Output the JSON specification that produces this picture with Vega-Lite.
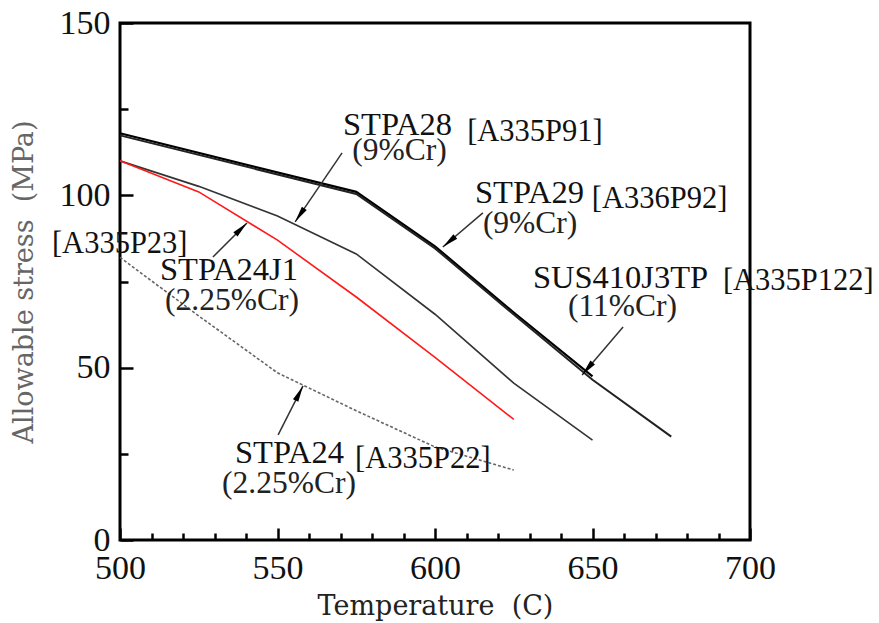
{
  "$schema": "https://vega.github.io/schema/vega-lite/v6.json",
  "width": 630,
  "height": 517,
  "autosize": {"type": "none"},
  "padding": {"left": 120, "top": 23, "right": 129, "bottom": 83},
  "background": "white",
  "config": {
    "view": {"stroke": "black", "strokeWidth": 3},
    "axis": {"grid": false, "domain": false}
  },
  "datasets": {
    "curves": [
      {"series": "STPA29", "temp": 500, "stress": 118},
      {"series": "STPA29", "temp": 575, "stress": 101},
      {"series": "STPA29", "temp": 600, "stress": 85.2},
      {"series": "STPA29", "temp": 625, "stress": 66},
      {"series": "STPA29", "temp": 650, "stress": 47.5},
      {"series": "SUS410J3TP", "temp": 500, "stress": 117.4},
      {"series": "SUS410J3TP", "temp": 575, "stress": 100.4},
      {"series": "SUS410J3TP", "temp": 600, "stress": 84.6},
      {"series": "SUS410J3TP", "temp": 625, "stress": 65.4},
      {"series": "SUS410J3TP", "temp": 650, "stress": 46.5},
      {"series": "SUS410J3TP", "temp": 675, "stress": 30},
      {"series": "STPA28", "temp": 500, "stress": 110},
      {"series": "STPA28", "temp": 525, "stress": 102.6},
      {"series": "STPA28", "temp": 550, "stress": 94},
      {"series": "STPA28", "temp": 575, "stress": 83},
      {"series": "STPA28", "temp": 600, "stress": 65.5},
      {"series": "STPA28", "temp": 625, "stress": 45.5},
      {"series": "STPA28", "temp": 650, "stress": 29},
      {"series": "STPA24J1", "temp": 500, "stress": 110},
      {"series": "STPA24J1", "temp": 525, "stress": 101},
      {"series": "STPA24J1", "temp": 550, "stress": 87},
      {"series": "STPA24J1", "temp": 575, "stress": 70.5},
      {"series": "STPA24J1", "temp": 600, "stress": 53},
      {"series": "STPA24J1", "temp": 625, "stress": 35},
      {"series": "STPA24", "temp": 500, "stress": 82},
      {"series": "STPA24", "temp": 525, "stress": 65},
      {"series": "STPA24", "temp": 550, "stress": 48.5},
      {"series": "STPA24", "temp": 575, "stress": 37.5},
      {"series": "STPA24", "temp": 600, "stress": 27},
      {"series": "STPA24", "temp": 625, "stress": 20.3}
    ],
    "labels": [
      {"label": "STPA28", "kind": "name", "temp": 570.8, "stress": 117.5},
      {"label": "[A335P91]", "kind": "code", "temp": 610.2, "stress": 115.8},
      {"label": "(9%Cr)", "kind": "cr", "temp": 573.7, "stress": 110.2},
      {"label": "STPA29", "kind": "name", "temp": 612.7, "stress": 97.8},
      {"label": "[A336P92]", "kind": "code", "temp": 649.8, "stress": 96.3},
      {"label": "(9%Cr)", "kind": "cr", "temp": 615.2, "stress": 89.1},
      {"label": "SUS410J3TP", "kind": "name", "temp": 631.1, "stress": 73.1},
      {"label": "[A335P122]", "kind": "code", "temp": 691.4, "stress": 72.5},
      {"label": "(11%Cr)", "kind": "cr", "temp": 642.2, "stress": 65.0},
      {"label": "[A335P23]", "kind": "code", "temp": 478.4, "stress": 83.3},
      {"label": "STPA24J1", "kind": "name", "temp": 512.7, "stress": 75.4},
      {"label": "(2.25%Cr)", "kind": "cr", "temp": 514.3, "stress": 66.7},
      {"label": "STPA24", "kind": "name", "temp": 536.5, "stress": 22.3},
      {"label": "[A335P22]", "kind": "code", "temp": 574.6, "stress": 20.9},
      {"label": "(2.25%Cr)", "kind": "cr", "temp": 532.4, "stress": 13.6}
    ],
    "arrows": [
      {"target": "STPA28", "t1": 570.5, "s1": 112.3, "t2": 555.6, "s2": 92.3},
      {"target": "STPA29", "t1": 615.2, "s1": 94.9, "t2": 602.5, "s2": 85.0},
      {"target": "SUS410J3TP", "t1": 659.7, "s1": 61.8, "t2": 646.7, "s2": 47.9},
      {"target": "STPA24J1", "t1": 529.5, "s1": 82.1, "t2": 540.3, "s2": 92.0},
      {"target": "STPA24", "t1": 550.2, "s1": 30.5, "t2": 558.1, "s2": 44.7}
    ]
  },
  "resolve": {"axis": {"x": "independent", "y": "independent"}},
  "layer": [
    {
      "data": {"name": "curves"},
      "transform": [{"filter": "datum.series === 'STPA29'"}],
      "mark": {"type": "line", "color": "black", "strokeWidth": 2.2},
      "encoding": {
        "x": {
          "field": "temp", "type": "quantitative",
          "scale": {"domain": [500, 700], "nice": false, "zero": false},
          "axis": {
            "orient": "bottom", "values": [500, 550, 600, 650, 700],
            "tickSize": -12, "tickWidth": 2.5, "tickColor": "black",
            "labelFont": "Liberation Serif", "labelFontSize": 34, "labelColor": "#111",
            "labelPadding": 23, "labelFlush": false, "labelOverlap": false,
            "title": "Temperature\u00a0\u00a0(C)", "titleFont": "DejaVu Serif", "titleFontSize": 27,
            "titleFontWeight": "normal", "titleColor": "#222", "titlePadding": 8
          }
        },
        "y": {
          "field": "stress", "type": "quantitative",
          "scale": {"domain": [0, 150], "nice": false, "zero": true},
          "axis": {
            "orient": "left", "values": [0, 50, 100, 150],
            "tickSize": -13, "tickWidth": 2.5, "tickColor": "black",
            "labelFont": "Liberation Serif", "labelFontSize": 34, "labelColor": "#111",
            "labelPadding": 23, "labelFlush": false, "labelOverlap": false,
            "title": "Allowable stress\u00a0 (MPa)", "titleFont": "DejaVu Serif", "titleFontSize": 27,
            "titleFontWeight": "normal", "titleColor": "#666", "titlePadding": 21
          }
        }
      }
    },
    {
      "data": {"name": "curves"},
      "mark": {"type": "point", "opacity": 0},
      "encoding": {
        "x": {
          "field": "temp", "type": "quantitative",
          "scale": {"domain": [500, 700], "nice": false, "zero": false},
          "axis": {
            "orient": "bottom",
            "values": [510, 520, 530, 540, 560, 570, 580, 590, 610, 620, 630, 640, 660, 670, 680, 690],
            "tickSize": -7, "tickWidth": 2.5, "tickColor": "black",
            "labels": false, "title": null
          }
        },
        "y": {
          "field": "stress", "type": "quantitative",
          "scale": {"domain": [0, 150], "nice": false, "zero": true},
          "axis": {
            "orient": "left", "values": [25, 75, 125],
            "tickSize": -8, "tickWidth": 2.5, "tickColor": "black",
            "labels": false, "title": null
          }
        }
      }
    },
    {
      "data": {"name": "curves"},
      "transform": [{"filter": "datum.series === 'SUS410J3TP'"}],
      "mark": {"type": "line", "color": "#222", "strokeWidth": 2},
      "encoding": {
        "x": {"field": "temp", "type": "quantitative", "scale": {"domain": [500, 700], "nice": false, "zero": false}, "axis": null},
        "y": {"field": "stress", "type": "quantitative", "scale": {"domain": [0, 150], "nice": false, "zero": true}, "axis": null}
      }
    },
    {
      "data": {"name": "curves"},
      "transform": [{"filter": "datum.series === 'STPA28'"}],
      "mark": {"type": "line", "color": "#333", "strokeWidth": 1.6},
      "encoding": {
        "x": {"field": "temp", "type": "quantitative", "scale": {"domain": [500, 700], "nice": false, "zero": false}, "axis": null},
        "y": {"field": "stress", "type": "quantitative", "scale": {"domain": [0, 150], "nice": false, "zero": true}, "axis": null}
      }
    },
    {
      "data": {"name": "curves"},
      "transform": [{"filter": "datum.series === 'STPA24J1'"}],
      "mark": {"type": "line", "color": "#ff1a1a", "strokeWidth": 1.6},
      "encoding": {
        "x": {"field": "temp", "type": "quantitative", "scale": {"domain": [500, 700], "nice": false, "zero": false}, "axis": null},
        "y": {"field": "stress", "type": "quantitative", "scale": {"domain": [0, 150], "nice": false, "zero": true}, "axis": null}
      }
    },
    {
      "data": {"name": "curves"},
      "transform": [{"filter": "datum.series === 'STPA24'"}],
      "mark": {"type": "line", "color": "#666", "strokeWidth": 1.6, "strokeDash": [3, 2]},
      "encoding": {
        "x": {"field": "temp", "type": "quantitative", "scale": {"domain": [500, 700], "nice": false, "zero": false}, "axis": null},
        "y": {"field": "stress", "type": "quantitative", "scale": {"domain": [0, 150], "nice": false, "zero": true}, "axis": null}
      }
    },
    {
      "data": {"name": "arrows"},
      "mark": {"type": "rule", "color": "#333", "strokeWidth": 1.5},
      "encoding": {
        "x": {"field": "t1", "type": "quantitative", "scale": {"domain": [500, 700], "nice": false, "zero": false}, "axis": null},
        "y": {"field": "s1", "type": "quantitative", "scale": {"domain": [0, 150], "nice": false, "zero": true}, "axis": null},
        "x2": {"field": "t2"},
        "y2": {"field": "s2"}
      }
    },
    {
      "data": {"name": "arrows"},
      "transform": [{"calculate": "atan2((datum.t2 - datum.t1) * 3.15, (datum.s2 - datum.s1) * 3.447) * 180 / PI", "as": "angle"}],
      "mark": {"type": "point", "shape": "M0,0L0.4,2.2L-0.4,2.2Z", "filled": true, "color": "black", "opacity": 1, "size": 220, "strokeWidth": 0},
      "encoding": {
        "x": {"field": "t2", "type": "quantitative", "scale": {"domain": [500, 700], "nice": false, "zero": false}, "axis": null},
        "y": {"field": "s2", "type": "quantitative", "scale": {"domain": [0, 150], "nice": false, "zero": true}, "axis": null},
        "angle": {"field": "angle", "type": "quantitative", "scale": null}
      }
    },
    {
      "data": {"name": "labels"},
      "transform": [{"filter": "datum.kind === 'name'"}],
      "mark": {"type": "text", "align": "left", "baseline": "alphabetic", "font": "Liberation Serif", "fontSize": 32.5, "color": "#111"},
      "encoding": {
        "x": {"field": "temp", "type": "quantitative", "scale": {"domain": [500, 700], "nice": false, "zero": false}, "axis": null},
        "y": {"field": "stress", "type": "quantitative", "scale": {"domain": [0, 150], "nice": false, "zero": true}, "axis": null},
        "text": {"field": "label"}
      }
    },
    {
      "data": {"name": "labels"},
      "transform": [{"filter": "datum.kind === 'code'"}],
      "mark": {"type": "text", "align": "left", "baseline": "alphabetic", "font": "Liberation Serif", "fontSize": 30.5, "color": "#111"},
      "encoding": {
        "x": {"field": "temp", "type": "quantitative", "scale": {"domain": [500, 700], "nice": false, "zero": false}, "axis": null},
        "y": {"field": "stress", "type": "quantitative", "scale": {"domain": [0, 150], "nice": false, "zero": true}, "axis": null},
        "text": {"field": "label"}
      }
    },
    {
      "data": {"name": "labels"},
      "transform": [{"filter": "datum.kind === 'cr'"}],
      "mark": {"type": "text", "align": "left", "baseline": "alphabetic", "font": "Liberation Serif", "fontSize": 31.5, "color": "#222"},
      "encoding": {
        "x": {"field": "temp", "type": "quantitative", "scale": {"domain": [500, 700], "nice": false, "zero": false}, "axis": null},
        "y": {"field": "stress", "type": "quantitative", "scale": {"domain": [0, 150], "nice": false, "zero": true}, "axis": null},
        "text": {"field": "label"}
      }
    }
  ]
}
